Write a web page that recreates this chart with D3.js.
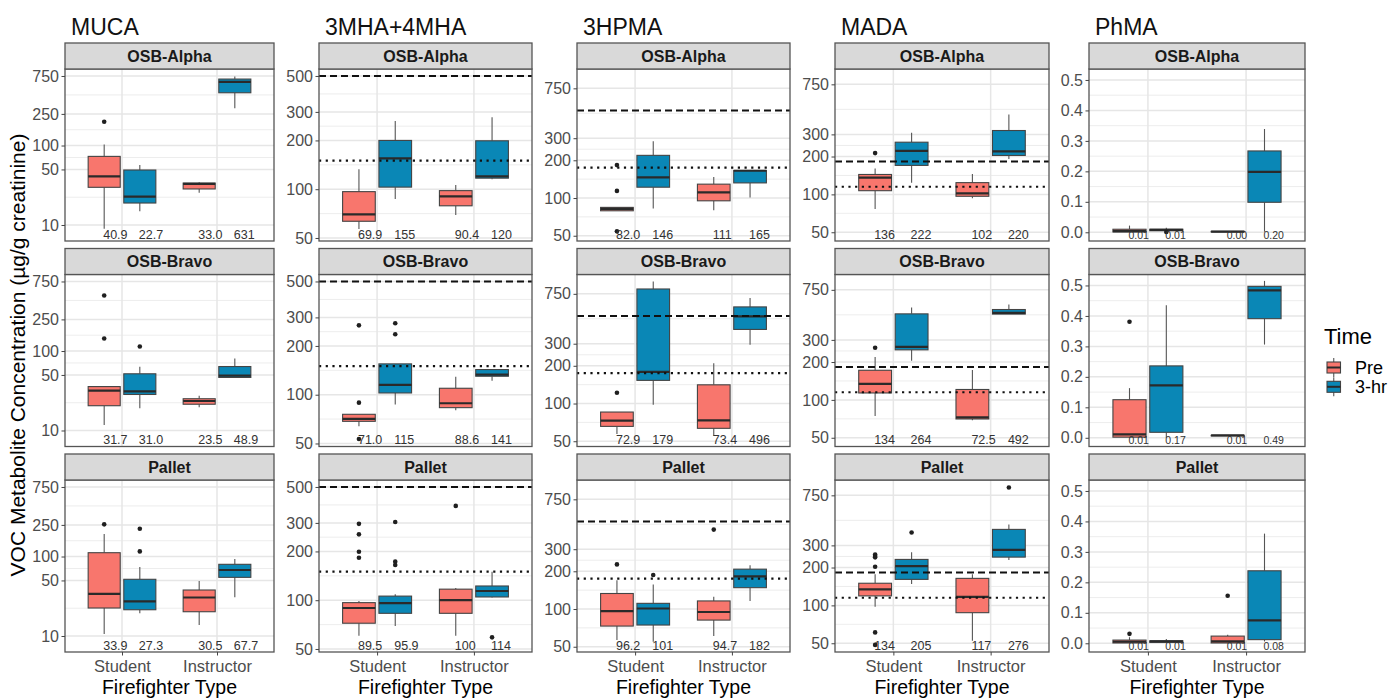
<!DOCTYPE html>
<html><head><meta charset="utf-8">
<script src="https://cdn.jsdelivr.net/npm/d3@7"></script>
<style>body{margin:0;background:#fff} svg{display:block}</style>
</head><body>
<svg id="chart" width="1389" height="699"></svg>
<script>
// ---------------- DATA ----------------
const metabolites = ["MUCA", "3MHA+4MHA", "3HPMA", "MADA", "PhMA"];
const scenarios = ["OSB-Alpha", "OSB-Bravo", "Pallet"];
const ffTypes = ["Student", "Instructor"];
const times = ["Pre", "3-hr"];

const ticksMUCA = [10, 50, 100, 250, 750];
const ticks3MHA = [50, 100, 200, 300, 500];
const ticks3HPMA = [50, 100, 200, 300, 750];
const ticksMADA = [50, 100, 200, 300, 750];
const ticksPhMA = [0, 0.1, 0.2, 0.3, 0.4, 0.5];
const tickLabelsPhMA = ["0.0", "0.1", "0.2", "0.3", "0.4", "0.5"];

const domainMUCA = [6.29, 918];
const domain3MHA = [47.9, 552];
const domain3HPMA = [45.4, 1070];
const domainMADA = [42.6, 993];
const domainPhMA = [-0.0286, 0.536];

// [lower whisker, Q1, median, Q3, upper whisker]; order: scenario > type > time
const statsMUCA = [
  [9, 29.8, 40.9, 73, 103], [14.9, 18.9, 22.7, 49.2, 57], [25.5, 28.4, 33.0, 33.7, 34.5], [294, 461, 631, 686, 741],
  [11.7, 20.5, 31.7, 35.7, 36], [19.1, 28.4, 31.0, 51.7, 63.2], [19.6, 21.4, 23.5, 25.1, 27.3], [46.5, 46.5, 48.9, 63.8, 80.6],
  [10.6, 22.5, 33.9, 111.7, 192], [19.3, 21.4, 27.3, 51.7, 73.8], [13.8, 20.2, 30.5, 37.9, 49.2], [30.7, 54.7, 67.7, 79.8, 93.1]
];
const outliersMUCA = [[199], [], [], [], [499, 144], [114], [], [], [254], [224, 116], [], []];
const labelsMUCA = ["40.9", "22.7", "33.0", "631", "31.7", "31.0", "23.5", "48.9", "33.9", "27.3", "30.5", "67.7"];

const stats3MHA = [
  [56.8, 63.4, 69.9, 96.6, 133], [87, 103, 155, 200, 264], [69.3, 79, 90.4, 98, 106], [115, 117, 120, 199, 278],
  [63.8, 68.5, 71.0, 75.7, 75.7], [86.9, 102.5, 115, 155, 155], [80.2, 83.2, 88.6, 109.6, 129], [122, 130, 133, 143, 143],
  [60.4, 72.1, 89.5, 96.6, 99], [69.3, 83, 95.9, 106, 109], [60.4, 83, 100, 117, 119], [104, 104.7, 114, 122.4, 150]
];
const outliers3MHA = [[], [], [], [], [268, 89.3, 53.3], [276, 236], [], [], [296, 255, 199, 183], [304, 173, 165], [382], [59]];
const labels3MHA = ["69.9", "155", "90.4", "120", "71.0", "115", "88.6", "141", "89.5", "95.9", "100", "114"];

const stats3HPMA = [
  [79.1, 79.1, 82.0, 84.2, 84.2], [82.6, 122, 146, 219, 284], [80, 95, 111, 129, 147], [101, 132, 165, 166, 166],
  [57, 65.7, 72.9, 85.5, 85.5], [97.7, 153, 179, 820, 940], [55.3, 63.4, 73.4, 141, 210], [294, 390, 496, 590, 695],
  [56.5, 73.1, 96.2, 133, 170], [54.8, 74.5, 101, 111, 157], [60.8, 81.6, 94.7, 116, 125], [116, 148, 182, 208, 223]
];
const outliers3HPMA = [[183, 114, 54.2], [], [], [], [122], [], [], [], [227], [187], [430], []];
const labels3HPMA = ["82.0", "146", "111", "165", "72.9", "179", "73.4", "496", "96.2", "101", "94.7", "182"];

const statsMADA = [
  [76.5, 107, 136, 144, 161], [124, 170, 222, 260, 309], [93, 96.6, 102, 124, 145], [191, 204, 220, 322, 432],
  [74.5, 113.5, 134, 172, 219], [205, 250, 264, 483, 543], [68.9, 70.5, 72.5, 121, 173], [481, 481, 492, 523, 574],
  [97.5, 119, 134, 150, 177], [148, 161, 205, 232, 265], [52.4, 87.5, 117, 164, 177], [230, 242, 276, 402, 440]
];
const outliersMADA = [[213], [], [], [], [260], [], [], [], [254, 247, 241, 203, 61, 48.5], [380], [], [866]];
const labelsMADA = ["136", "222", "102", "220", "134", "264", "72.5", "492", "134", "205", "117", "276"];

const statsPhMA = [
  [0, 0.001, 0.004, 0.01, 0.022], [0.004, 0.005, 0.008, 0.01, 0.015], [0.001, 0.002, 0.002, 0.003, 0.003], [0.002, 0.0985, 0.198, 0.267, 0.339],
  [0.001, 0.002, 0.0115, 0.125, 0.163], [0, 0.018, 0.172, 0.236, 0.435], [0.007, 0.007, 0.008, 0.008, 0.009], [0.306, 0.391, 0.484, 0.497, 0.515],
  [0, 0.001, 0.005, 0.0105, 0.02], [0.002, 0.003, 0.006, 0.008, 0.014], [0, 0.001, 0.006, 0.0236, 0.028], [0.006, 0.012, 0.075, 0.238, 0.36]
];
const outliersPhMA = [[], [0.001], [], [], [0.381], [], [], [], [0.031], [], [0.156], []];
const labelsPhMA = ["0.01", "0.01", "0.00", "0.20", "0.01", "0.17", "0.01", "0.49", "0.01", "0.01", "0.01", "0.08"];

const dashedRef = [null, 500, 500, 183, null];
const dottedRef = [null, 150, 175, 115, null];

// ---------------- LAYOUT ----------------
const FONT = "'Liberation Sans', Arial, sans-serif";
const colPanels = [[65, 274], [319, 532], [577, 790], [835, 1049], [1089, 1305]];
const rowTops = [69, 274.5, 480];
const plotH = 172, stripH = 26;
const fills = { "Pre": "#F8766D", "3-hr": "#0A87B6" };

const columns = [
  { ticks: ticksMUCA, tlab: ticksMUCA.map(String), domain: domainMUCA, log: true, stats: statsMUCA, out: outliersMUCA, lab: labelsMUCA },
  { ticks: ticks3MHA, tlab: ticks3MHA.map(String), domain: domain3MHA, log: true, stats: stats3MHA, out: outliers3MHA, lab: labels3MHA },
  { ticks: ticks3HPMA, tlab: ticks3HPMA.map(String), domain: domain3HPMA, log: true, stats: stats3HPMA, out: outliers3HPMA, lab: labels3HPMA },
  { ticks: ticksMADA, tlab: ticksMADA.map(String), domain: domainMADA, log: true, stats: statsMADA, out: outliersMADA, lab: labelsMADA },
  { ticks: ticksPhMA, tlab: tickLabelsPhMA, domain: domainPhMA, log: false, stats: statsPhMA, out: outliersPhMA, lab: labelsPhMA }
];

const svg = d3.select("#chart").attr("font-family", FONT);
svg.append("rect").attr("width", 1389).attr("height", 699).attr("fill", "#fff");

function minorBreaks(col) {
  const tf = col.log ? Math.log10 : (v => v);
  const inv = col.log ? (v => Math.pow(10, v)) : (v => v);
  const b = col.ticks.map(tf);
  const ext = [b[0] - (b[1] - b[0]), ...b, b[b.length - 1] + (b[b.length - 1] - b[b.length - 2])];
  const lo = tf(col.domain[0]), hi = tf(col.domain[1]);
  const res = [];
  for (let i = 0; i < ext.length - 1; i++) {
    const m = (ext[i] + ext[i + 1]) / 2;
    if (m > lo && m < hi) res.push(inv(m));
  }
  return res;
}

columns.forEach((col, c) => {
  const [x0, x1] = colPanels[c];
  svg.append("text").attr("x", x0 + 6).attr("y", 35).attr("font-size", 23).attr("fill", "#111")
    .text(metabolites[c]);

  const x = d3.scalePoint().domain(ffTypes).range([x0, x1]).padding(0.6);
  const step = x.step();
  const dodge = d3.scaleBand().domain(times).range([-0.375 * step, 0.375 * step]);
  const boxW = 0.9 * dodge.bandwidth();
  const minors = minorBreaks(col);

  scenarios.forEach((sc, r) => {
    const top = rowTops[r], bottom = top + plotH;
    const y = (col.log ? d3.scaleLog() : d3.scaleLinear()).domain(col.domain).range([bottom, top]);
    const g = svg.append("g");

    g.append("rect").attr("x", x0).attr("y", top).attr("width", x1 - x0).attr("height", plotH).attr("fill", "#fff");
    g.selectAll(".minor").data(minors).join("line")
      .attr("x1", x0).attr("x2", x1).attr("y1", d => y(d)).attr("y2", d => y(d))
      .attr("stroke", "#EBEBEB").attr("stroke-width", 0.9);
    g.selectAll(".major").data(col.ticks).join("line")
      .attr("x1", x0).attr("x2", x1).attr("y1", d => y(d)).attr("y2", d => y(d))
      .attr("stroke", "#E6E6E6").attr("stroke-width", 1.5);
    g.selectAll(".xmaj").data(ffTypes).join("line")
      .attr("x1", d => x(d)).attr("x2", d => x(d)).attr("y1", top).attr("y2", bottom)
      .attr("stroke", "#E6E6E6").attr("stroke-width", 1.5);

    ffTypes.forEach((ft, ti) => {
      times.forEach((tm, mi) => {
        const idx = r * 4 + ti * 2 + mi;
        const s = col.stats[idx];
        const cx = x(ft) + dodge(tm) + dodge.bandwidth() / 2;
        const bg = g.append("g");
        bg.append("line").attr("x1", cx).attr("x2", cx).attr("y1", y(s[0])).attr("y2", y(s[1]))
          .attr("stroke", "#555").attr("stroke-width", 1.1);
        bg.append("line").attr("x1", cx).attr("x2", cx).attr("y1", y(s[3])).attr("y2", y(s[4]))
          .attr("stroke", "#555").attr("stroke-width", 1.1);
        bg.append("rect").attr("x", cx - boxW / 2).attr("width", boxW)
          .attr("y", y(s[3])).attr("height", Math.max(0.5, y(s[1]) - y(s[3])))
          .attr("fill", fills[tm]).attr("stroke", "#444").attr("stroke-width", 1.1);
        bg.append("line").attr("x1", cx - boxW / 2).attr("x2", cx + boxW / 2).attr("y1", y(s[2])).attr("y2", y(s[2]))
          .attr("stroke", "#2a2a2a").attr("stroke-width", 2.2);
        bg.selectAll("circle").data(col.out[idx]).join("circle")
          .attr("cx", cx).attr("cy", d => y(d)).attr("r", 2.3).attr("fill", "#1f1f1f");
        g.append("text").attr("x", cx - 1).attr("y", bottom - 2.5)
          .attr("font-size", c === 4 ? 10.5 : 12.5).attr("fill", "#333")
          .text(col.lab[idx]);
      });
    });

    if (dashedRef[c] != null) {
      g.append("line").attr("x1", x0).attr("x2", x1).attr("y1", y(dashedRef[c])).attr("y2", y(dashedRef[c]))
        .attr("stroke", "#111").attr("stroke-width", 2).attr("stroke-dasharray", "7,4");
    }
    if (dottedRef[c] != null) {
      g.append("line").attr("x1", x0).attr("x2", x1).attr("y1", y(dottedRef[c])).attr("y2", y(dottedRef[c]))
        .attr("stroke", "#111").attr("stroke-width", 2.2).attr("stroke-dasharray", "2.2,4.5");
    }

    g.append("rect").attr("x", x0).attr("y", top).attr("width", x1 - x0).attr("height", plotH)
      .attr("fill", "none").attr("stroke", "#555").attr("stroke-width", 1.3);

    g.append("rect").attr("x", x0).attr("y", top - stripH).attr("width", x1 - x0).attr("height", stripH)
      .attr("fill", "#D9D9D9").attr("stroke", "#555").attr("stroke-width", 1.3);
    g.append("text").attr("x", (x0 + x1) / 2).attr("y", top - stripH / 2 + 5.5)
      .attr("text-anchor", "middle").attr("font-size", 16).attr("font-weight", "bold").attr("fill", "#1a1a1a")
      .text(sc);

    const ax = g.append("g").attr("transform", `translate(${x0},0)`)
      .call(d3.axisLeft(y).tickValues(col.ticks).tickFormat((d, i) => col.tlab[i]).tickSizeOuter(0).tickSize(3.5).tickPadding(2.5));
    ax.select(".domain").remove();
    ax.selectAll(".tick line").attr("stroke", "#444");
    ax.selectAll("text").attr("font-size", 16).attr("fill", "#4d4d4d").attr("font-family", FONT);

    if (r === 2) {
      const bx = g.append("g").attr("transform", `translate(0,${bottom})`)
        .call(d3.axisBottom(x).tickSizeOuter(0).tickSize(3.5).tickPadding(5));
      bx.select(".domain").remove();
      bx.selectAll(".tick line").attr("stroke", "#444");
      bx.selectAll("text").attr("font-size", 16.5).attr("fill", "#4d4d4d").attr("font-family", FONT);
      svg.append("text").attr("x", (x0 + x1) / 2).attr("y", 694).attr("text-anchor", "middle")
        .attr("font-size", 19.5).attr("fill", "#000").text("Firefighter Type");
    }
  });
});

svg.append("text").attr("transform", "translate(25,355) rotate(-90)").attr("text-anchor", "middle")
  .attr("font-size", 21).attr("fill", "#000").text("VOC Metabolite Concentration (µg/g creatinine)");

const lg = svg.append("g");
lg.append("text").attr("x", 1324).attr("y", 344).attr("font-size", 22).attr("fill", "#000").text("Time");
times.forEach((tm, i) => {
  const cy = 367.5 + i * 19.3;
  const kx = 1327, kw = 13.5, kc = kx + kw / 2;
  lg.append("line").attr("x1", kc).attr("x2", kc).attr("y1", cy - 9.5).attr("y2", cy + 9.5).attr("stroke", "#555").attr("stroke-width", 1.1);
  lg.append("rect").attr("x", kx).attr("y", cy - 5.5).attr("width", kw).attr("height", 11)
    .attr("fill", fills[tm]).attr("stroke", "#444").attr("stroke-width", 1.1);
  lg.append("line").attr("x1", kx).attr("x2", kx + kw).attr("y1", cy).attr("y2", cy).attr("stroke", "#2a2a2a").attr("stroke-width", 2);
  lg.append("text").attr("x", 1355).attr("y", cy + 6.3).attr("font-size", 18).attr("fill", "#000").text(tm);
});
</script>
</body></html>
